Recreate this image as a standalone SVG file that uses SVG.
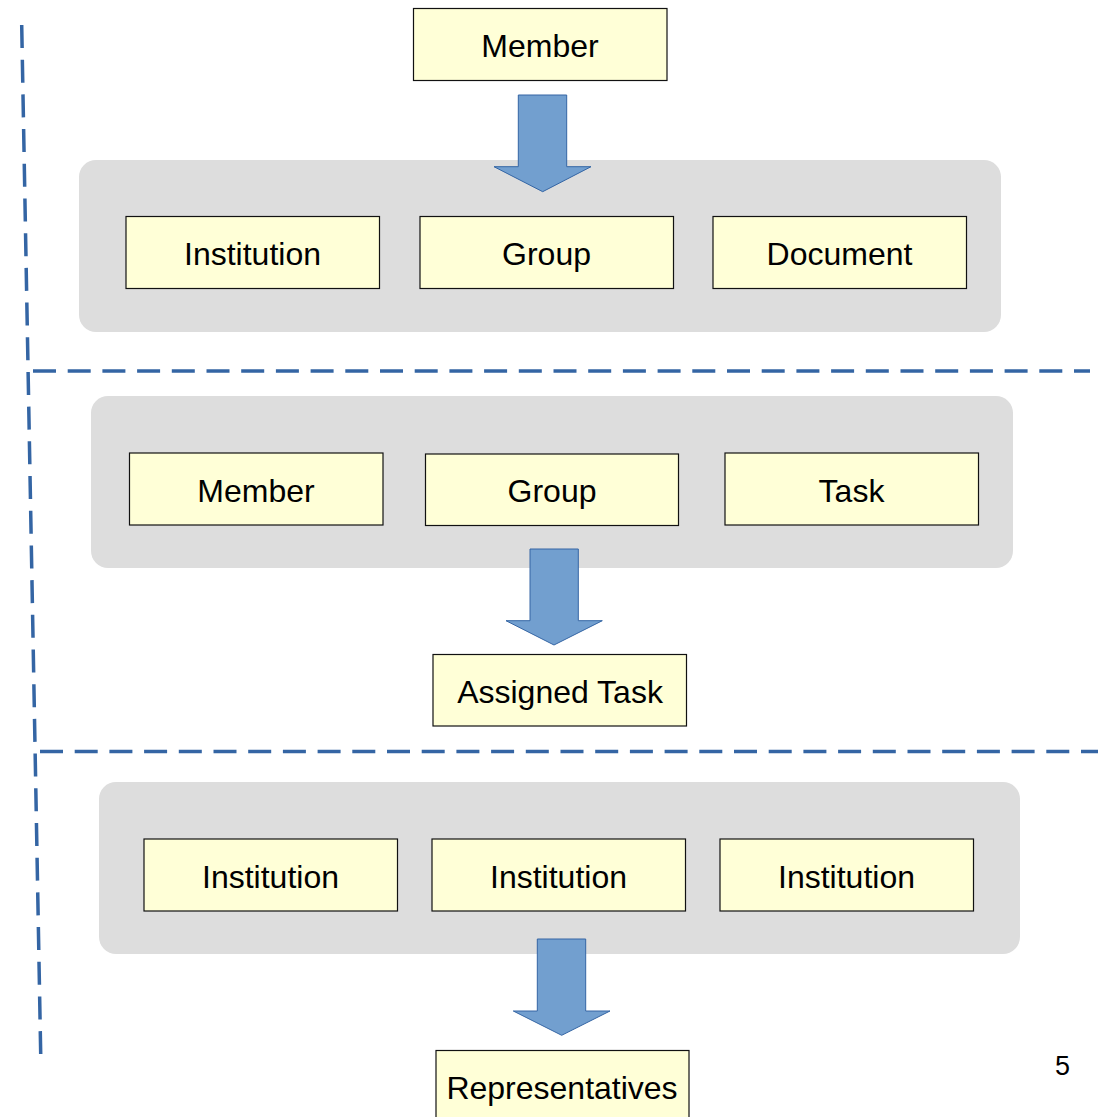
<svg xmlns="http://www.w3.org/2000/svg" width="1103" height="1117" viewBox="0 0 1103 1117">
<style>
.panel{fill:#dddddd;}
.box{fill:#ffffd7;stroke:#111111;stroke-width:1.2;}
.lbl{font-family:"Liberation Sans",Arial,sans-serif;font-size:32px;fill:#000;text-anchor:middle;}
.arrow{fill:#729fcf;stroke:#3465a4;stroke-width:1;}
.dash{stroke:#3465a4;stroke-width:3.5;stroke-dasharray:23 11.7;fill:none;}
</style>
<rect width="1103" height="1117" fill="#ffffff"/>
<g id="separators">
<line class="dash" x1="21.7" y1="25" x2="40.7" y2="1054"/>
<line class="dash" x1="33" y1="371" x2="1090" y2="371"/>
<line class="dash" x1="40" y1="751.5" x2="1098" y2="751.5"/>
</g>
<g id="panels">
<rect class="panel" x="79" y="160" width="922" height="172" rx="17"/>
<rect class="panel" x="91" y="396" width="922" height="172" rx="17"/>
<rect class="panel" x="99" y="782" width="921" height="172" rx="17"/>
</g>
<g id="connectors">
<polygon class="arrow" points="518.3,95 566.7,95 566.7,166.7 591,166.7 542.7,191.7 494,166.7 518.3,166.7"/>
<polygon class="arrow" points="530,549 578.3,549 578.3,620.7 602.3,620.7 554,645 506,620.7 530,620.7"/>
<polygon class="arrow" points="537.3,939 585.7,939 585.7,1011 610,1011 561.7,1035.3 513.3,1011 537.3,1011"/>
</g>
<g id="member-top"><rect class="box" x="413.5" y="8.5" width="253.5" height="72"/><text class="lbl" x="540" y="57">Member</text></g>
<g id="institution-1"><rect class="box" x="126" y="216.5" width="253.5" height="72"/><text class="lbl" x="252.5" y="265">Institution</text></g>
<g id="group-1"><rect class="box" x="420" y="216.5" width="253.5" height="72"/><text class="lbl" x="546.5" y="265">Group</text></g>
<g id="document-1"><rect class="box" x="713" y="216.5" width="253.5" height="72"/><text class="lbl" x="839.5" y="265">Document</text></g>
<g id="member-2"><rect class="box" x="129.5" y="453" width="253.5" height="72"/><text class="lbl" x="256" y="502">Member</text></g>
<g id="group-2"><rect class="box" x="425.5" y="454" width="253" height="71.5"/><text class="lbl" x="552" y="502">Group</text></g>
<g id="task-2"><rect class="box" x="725" y="453" width="253.5" height="72"/><text class="lbl" x="851.5" y="502">Task</text></g>
<g id="assigned-task"><rect class="box" x="433" y="654.5" width="253.5" height="71.5"/><text class="lbl" x="560" y="703">Assigned Task</text></g>
<g id="institution-3a"><rect class="box" x="144" y="839" width="253.5" height="72"/><text class="lbl" x="270.5" y="888">Institution</text></g>
<g id="institution-3b"><rect class="box" x="432" y="839" width="253.5" height="72"/><text class="lbl" x="558.5" y="888">Institution</text></g>
<g id="institution-3c"><rect class="box" x="720" y="839" width="253.5" height="72"/><text class="lbl" x="846.5" y="888">Institution</text></g>
<g id="representatives"><rect class="box" x="436" y="1050.5" width="253" height="80"/><text class="lbl" x="562" y="1099">Representatives</text></g>
<text x="1062.5" y="1075" font-family="Liberation Sans, Arial, sans-serif" font-size="27" text-anchor="middle" fill="#000">5</text>
</svg>
